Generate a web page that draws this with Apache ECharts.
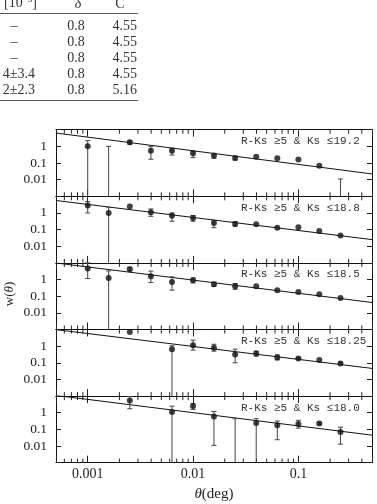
<!DOCTYPE html>
<html lang="en">
<head>
  <meta charset="utf-8">
  <title>w(theta) panels</title>
  <style>
    * { margin: 0; padding: 0; }
    #chart-container { position: relative; width: 377px; height: 504px; overflow: hidden; background: #fff; }
  </style>
</head>
<body>
  <div id="chart-container"></div>
  <script src="https://cdn.jsdelivr.net/npm/echarts@6/dist/echarts.min.js"></script>
  <script>
    var dom = document.getElementById('chart-container');
    var myChart = echarts.init(dom, null, { renderer: 'canvas' });

    // table fragment at the top
    var tableCol1 = ['–', '–', '–', '4±3.4', '2±2.3'];
    var tableDelta = ['0.8', '0.8', '0.8', '0.8', '0.8'];
    var tableC = ['4.55', '4.55', '4.55', '4.55', '5.16'];

    // angular bins (deg)
    var theta = [0.001, 0.00158, 0.00251, 0.00398, 0.00631, 0.01, 0.0158, 0.0251, 0.0398, 0.0631, 0.1, 0.158, 0.251];

    var panelLabels = ['R-Ks ≥5 & Ks ≤19.2', 'R-Ks ≥5 & Ks ≤18.8', 'R-Ks ≥5 & Ks ≤18.5', 'R-Ks ≥5 & Ks ≤18.25', 'R-Ks ≥5 & Ks ≤18.0'];

    // w(theta), upper and lower error ends (null lower = below the axis)
    var w192  = [1.0, null, 1.74, 0.55, 0.55, 0.38, 0.28, 0.2, 0.24, 0.19, 0.16, 0.069, null];
    var hi192 = [2.2, 1.0, 2.2, 1.0, 0.76, 0.5, 0.36, 0.25, null, null, null, null, 0.011];
    var lo192 = [null, null, 1.35, 0.17, 0.3, 0.21, 0.19, 0.15, null, null, null, null, null];

    var w188  = [2.76, 1.0, 2.4, 1.1, 0.69, 0.5, 0.25, 0.22, 0.21, 0.13, 0.14, 0.083, 0.044];
    var hi188 = [4.8, 2.2, null, 1.74, 1.0, 0.7, 0.36, 0.3, null, null, null, null, null];
    var lo188 = [1.0, null, null, 0.63, 0.32, 0.32, 0.13, 0.16, null, null, null, null, null];

    var w185  = [4.6, 1.26, 4.2, 1.6, 0.72, 0.91, 0.52, 0.4, 0.4, 0.23, 0.18, 0.13, 0.079];
    var hi185 = [10, 3.3, 5.5, 3.2, 1.45, 1.25, 0.69, 0.58, null, null, null, null, null];
    var lo185 = [1.15, null, 3.3, 0.66, 0.23, 0.63, 0.4, 0.26, null, null, null, null, null];

    var w1825  = [null, null, 7.2, null, 0.66, 1.15, 0.8, 0.32, 0.36, 0.21, 0.18, 0.145, 0.091];
    var hi1825 = [null, null, null, null, 1.05, 2.3, 1.3, 0.66, 0.5, 0.3, 0.2, null, 0.105];
    var lo1825 = [null, null, null, null, null, 0.58, 0.5, 0.1, 0.25, 0.15, 0.16, null, 0.078];

    var w180  = [null, null, 5.5, null, 1.1, 2.5, 0.6, null, 0.24, 0.18, 0.21, 0.23, 0.07];
    var hi180 = [null, null, 9.5, null, 2.5, 3.5, 1.2, 0.44, 0.44, 0.32, 0.35, 0.27, 0.135];
    var lo180 = [null, null, 1.74, null, null, 1.6, 0.011, null, null, 0.024, 0.12, 0.2, 0.013];

    // power-law fits, evaluated at the plot edges
    var fitTheta = [0.0005, 0.5];
    var fit192 = [6.3, 0.022];
    var fit188 = [5.6, 0.025];
    var fit185 = [9.9, 0.042];
    var fit1825 = [9.8, 0.046];
    var fit180 = [11, 0.045];

    var xTickLabels = { '-3': '0.001', '-2': '0.01', '-1': '0.1' };
    var yTickLabels = { '-2': '0.01', '-1': '0.1', '0': '1' };

    var panels = [
      { w: w192, hi: hi192, lo: lo192, fit: fit192 },
      { w: w188, hi: hi188, lo: lo188, fit: fit188 },
      { w: w185, hi: hi185, lo: lo185, fit: fit185 },
      { w: w1825, hi: hi1825, lo: lo1825, fit: fit1825 },
      { w: w180, hi: hi180, lo: lo180, fit: fit180 }
    ];

    var xMin = 0.0005, xMax = 0.5, yMin = 0.001, yMax = 10;
    var top0 = 129.7, panelH = 66.6;
    var serif = '"Liberation Serif", "DejaVu Serif", serif';

    function decadeLabel(table) {
      return function (v) {
        var l = Math.log10(v), e = Math.round(l);
        return Math.abs(l - e) < 1e-6 && table[e] ? table[e] : '';
      };
    }

    // minor ticks at 2..9 x 10^n
    var minorTicks = [];
    for (var e = -4; e <= -1; e++) {
      for (var m = 2; m <= 9; m++) {
        var v = m * Math.pow(10, e);
        if (v > xMin * 1.0001 && v < xMax * 0.9999) minorTicks.push([v, 1]);
      }
    }

    function renderMinor(params, api) {
      var x = api.value(0);
      var t = api.coord([x, yMax]), b = api.coord([x, yMin]);
      var st = { stroke: '#222', lineWidth: 1 };
      return {
        type: 'group',
        children: [
          { type: 'line', shape: { x1: t[0], y1: t[1], x2: t[0], y2: t[1] + 4 }, style: st },
          { type: 'line', shape: { x1: b[0], y1: b[1], x2: b[0], y2: b[1] - 4 }, style: st }
        ]
      };
    }

    function renderErr(params, api) {
      var x = api.value(0), hi = api.value(1), lo = api.value(2), capLo = api.value(3);
      var pHi = api.coord([x, hi]), pLo = api.coord([x, lo]);
      var st = { stroke: '#444', lineWidth: 1 };
      var kids = [
        { type: 'line', shape: { x1: pHi[0], y1: pHi[1], x2: pLo[0], y2: pLo[1] }, style: st },
        { type: 'line', shape: { x1: pHi[0] - 2.5, y1: pHi[1], x2: pHi[0] + 2.5, y2: pHi[1] }, style: st }
      ];
      if (capLo) {
        kids.push({ type: 'line', shape: { x1: pLo[0] - 2.5, y1: pLo[1], x2: pLo[0] + 2.5, y2: pLo[1] }, style: st });
      }
      return { type: 'group', children: kids };
    }

    var grids = [], xAxes = [], yAxes = [], series = [], graphics = [];

    panels.forEach(function (p, i) {
      var gTop = top0 + i * panelH;
      grids.push({ left: 56, right: 5, top: gTop, height: panelH });
      var last = i === panels.length - 1;
      var axisLine = { show: true, lineStyle: { color: '#111', width: 1 } };
      xAxes.push({
        type: 'log', gridIndex: i, position: 'bottom', min: xMin, max: xMax,
        axisLine: axisLine, splitLine: { show: false },
        axisTick: { inside: true, length: 7, lineStyle: { color: '#222' } },
        axisLabel: { show: last, margin: 5, fontFamily: serif, fontSize: 14, color: '#222', formatter: decadeLabel(xTickLabels) }
      });
      xAxes.push({
        type: 'log', gridIndex: i, position: 'top', min: xMin, max: xMax,
        axisLine: axisLine, splitLine: { show: false },
        axisTick: { inside: true, length: 7, lineStyle: { color: '#222' } },
        axisLabel: { show: false }
      });
      yAxes.push({
        type: 'log', gridIndex: i, position: 'left', min: yMin, max: yMax,
        axisLine: axisLine, splitLine: { show: false },
        axisTick: { inside: true, length: 5, lineStyle: { color: '#222' } },
        axisLabel: { margin: 9, fontFamily: serif, fontSize: 13.5, color: '#222', formatter: decadeLabel(yTickLabels) }
      });
      yAxes.push({
        type: 'log', gridIndex: i, position: 'right', min: yMin, max: yMax,
        axisLine: axisLine, splitLine: { show: false },
        axisTick: { inside: true, length: 5, lineStyle: { color: '#222' } },
        axisLabel: { show: false }
      });

      var pts = [], errs = [];
      theta.forEach(function (t, k) {
        if (p.w[k] != null) pts.push([t, p.w[k]]);
        if (p.hi[k] != null) {
          var below = p.lo[k] == null;
          errs.push([t, p.hi[k], below ? yMin : p.lo[k], below ? 0 : 1]);
        }
      });

      series.push({
        type: 'custom', xAxisIndex: 2 * i, yAxisIndex: 2 * i, silent: true,
        renderItem: renderMinor, data: minorTicks, z: 1
      });
      series.push({
        type: 'line', xAxisIndex: 2 * i, yAxisIndex: 2 * i, silent: true,
        data: [[fitTheta[0], p.fit[0]], [fitTheta[1], p.fit[1]]],
        symbol: 'none', lineStyle: { color: '#111', width: 1 }, clip: true, z: 2
      });
      series.push({
        type: 'custom', xAxisIndex: 2 * i, yAxisIndex: 2 * i, silent: true,
        renderItem: renderErr, data: errs, z: 3
      });
      series.push({
        type: 'scatter', xAxisIndex: 2 * i, yAxisIndex: 2 * i, silent: true,
        data: pts, symbol: 'circle', symbolSize: 6,
        itemStyle: { color: '#111' }, z: 4
      });

      graphics.push({
        type: 'text', left: 241, top: gTop + 6,
        style: { text: panelLabels[i], font: '11px "Liberation Mono", monospace', fill: '#333' }
      });
    });

    // table fragment
    var tableFont = '14px ' + serif;
    graphics.push({ type: 'text', x: 37, y: 3, style: { text: '[10{s|−3}]', align: 'right', verticalAlign: 'middle', font: tableFont, fill: '#333', rich: { s: { fontSize: 9, verticalAlign: 'top', padding: [0, 0, 6, 0], fontFamily: serif } } } });
    graphics.push({ type: 'text', x: 78, y: 4, style: { text: 'δ', align: 'center', verticalAlign: 'middle', font: 'italic ' + tableFont, fill: '#333' } });
    graphics.push({ type: 'text', x: 120, y: 4, style: { text: 'C', align: 'center', verticalAlign: 'middle', font: tableFont, fill: '#333' } });
    graphics.push({ type: 'line', shape: { x1: 0, y1: 13.5, x2: 138, y2: 13.5 }, style: { stroke: '#555', lineWidth: 1 } });
    graphics.push({ type: 'line', shape: { x1: 0, y1: 100.5, x2: 138, y2: 100.5 }, style: { stroke: '#555', lineWidth: 1 } });
    tableCol1.forEach(function (s, r) {
      var y = 26 + r * 16.2;
      graphics.push({ type: 'text', x: s === '–' ? 14 : 35, y: y, style: { text: s, align: s === '–' ? 'center' : 'right', verticalAlign: 'middle', font: tableFont, fill: '#333' } });
      graphics.push({ type: 'text', x: 76, y: y, style: { text: tableDelta[r], align: 'center', verticalAlign: 'middle', font: tableFont, fill: '#333' } });
      graphics.push({ type: 'text', x: 137, y: y, style: { text: tableC[r], align: 'right', verticalAlign: 'middle', font: tableFont, fill: '#333' } });
    });

    // axis titles
    graphics.push({
      type: 'text', x: 214, y: 494,
      style: { text: '{i|θ}(deg)', align: 'center', verticalAlign: 'middle', font: '15px ' + serif, fill: '#222', rich: { i: { fontStyle: 'italic', fontSize: 15, fontFamily: serif } } }
    });
    graphics.push({
      type: 'text', x: 10, y: 294, rotation: Math.PI / 2,
      style: { text: 'w({i|θ})', align: 'center', verticalAlign: 'middle', font: '13px ' + serif, fill: '#222', rich: { i: { fontStyle: 'italic', fontSize: 13, fontFamily: serif } } }
    });

    var option = {
      backgroundColor: '#fff',
      animation: false,
      grid: grids,
      xAxis: xAxes,
      yAxis: yAxes,
      series: series,
      graphic: graphics
    };

    myChart.setOption(option);
    window.addEventListener('resize', myChart.resize);
  </script>
</body>
</html>
